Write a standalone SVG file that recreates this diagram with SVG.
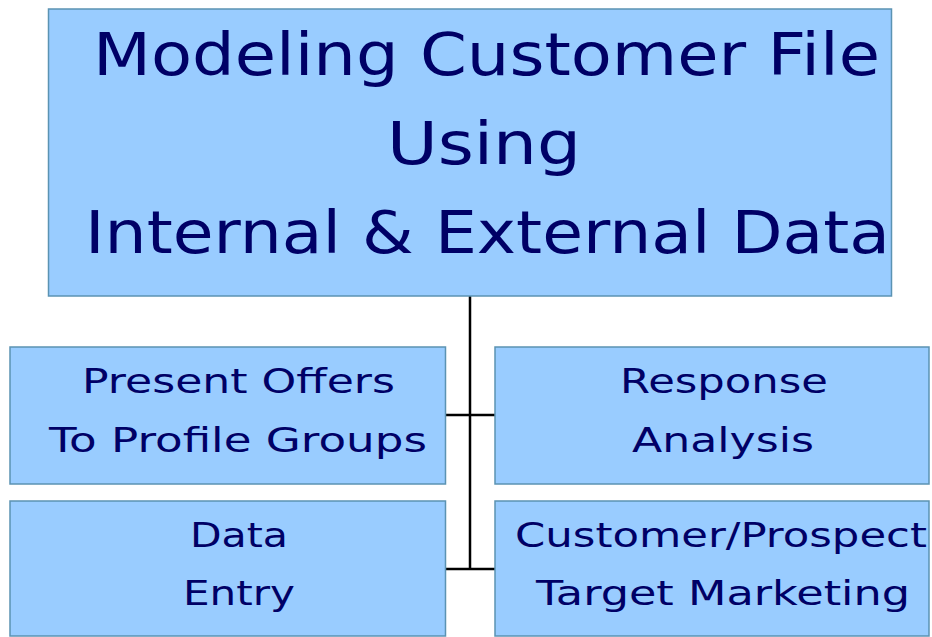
<svg xmlns="http://www.w3.org/2000/svg" width="932" height="637" viewBox="0 0 932 637">
  <style>
    .box { fill: #99ccff; stroke: #5b93b3; stroke-width: 1.5; }
    .wire { stroke: #000000; stroke-width: 2.5; fill: none; }
    .title { font-family: "DejaVu Sans", Verdana, sans-serif; font-size: 59px; fill: #000066; }
    .label { font-family: "DejaVu Sans", Verdana, sans-serif; font-size: 34px; fill: #000066; }
  </style>
  <rect width="932" height="637" fill="#ffffff"/>

  <!-- connectors: trunk from the main box with branches to each child -->
  <g id="connectors">
    <line class="wire" x1="470" y1="296" x2="470" y2="570"/>
    <line class="wire" x1="445" y1="415" x2="495" y2="415"/>
    <line class="wire" x1="445" y1="569" x2="495" y2="569"/>
  </g>

  <g id="main">
    <rect class="box" x="48.5" y="9" width="843" height="287"/>
    <text class="title" x="93" y="75" textLength="787" lengthAdjust="spacingAndGlyphs">Modeling Customer File</text>
    <text class="title" x="387" y="164" textLength="194" lengthAdjust="spacingAndGlyphs">Using</text>
    <text class="title" x="85" y="253" textLength="805" lengthAdjust="spacingAndGlyphs">Internal &amp; External Data</text>
  </g>

  <g id="present-offers">
    <rect class="box" x="10" y="347" width="435.5" height="137"/>
    <text class="label" x="82" y="393" textLength="313" lengthAdjust="spacingAndGlyphs">Present Offers</text>
    <text class="label" x="49" y="452" textLength="378" lengthAdjust="spacingAndGlyphs">To Profile Groups</text>
  </g>

  <g id="response-analysis">
    <rect class="box" x="495" y="347" width="434" height="137"/>
    <text class="label" x="620" y="393" textLength="208" lengthAdjust="spacingAndGlyphs">Response</text>
    <text class="label" x="632" y="452" textLength="182" lengthAdjust="spacingAndGlyphs">Analysis</text>
  </g>

  <g id="data-entry">
    <rect class="box" x="10" y="501" width="435.5" height="135"/>
    <text class="label" x="190" y="547" textLength="98" lengthAdjust="spacingAndGlyphs">Data</text>
    <text class="label" x="183" y="605" textLength="112" lengthAdjust="spacingAndGlyphs">Entry</text>
  </g>

  <g id="target-marketing">
    <rect class="box" x="495" y="501" width="434" height="135"/>
    <text class="label" x="515" y="547" textLength="412" lengthAdjust="spacingAndGlyphs">Customer/Prospect</text>
    <text class="label" x="536" y="605" textLength="374" lengthAdjust="spacingAndGlyphs">Target Marketing</text>
  </g>
</svg>
